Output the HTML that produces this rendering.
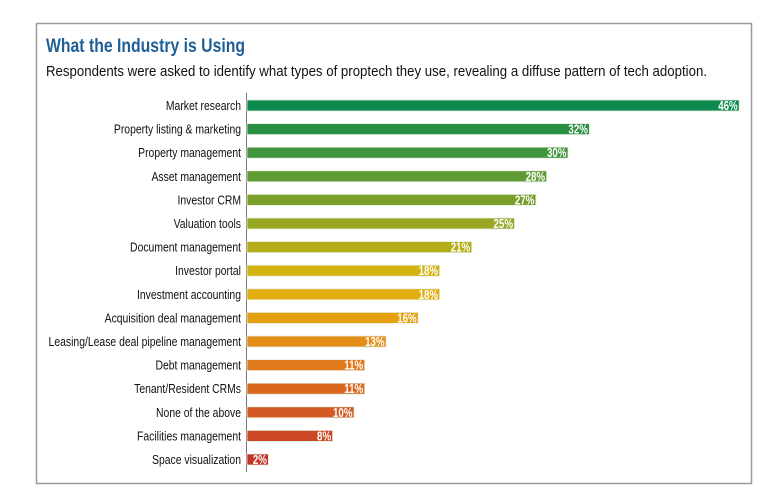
<!DOCTYPE html>
<html><head><meta charset="utf-8"><style>
body{margin:0;background:#fff;width:780px;height:493px;overflow:hidden}
svg{display:block}
text{font-family:"Liberation Sans",sans-serif}
</style></head><body>
<svg id="chart" width="780" height="493">
<rect x="36.5" y="23.5" width="715" height="460" fill="#fff" stroke="#9a9a9a" stroke-width="1.5"/>
<text x="46" y="52" font-size="19" font-weight="bold" fill="#1f5f96" textLength="199" lengthAdjust="spacingAndGlyphs">What the Industry is Using</text>
<text x="46" y="76" font-size="15" fill="#111" textLength="661" lengthAdjust="spacingAndGlyphs">Respondents were asked to identify what types of proptech they use, revealing a diffuse pattern of tech adoption.</text>
<line x1="246.5" y1="93" x2="246.5" y2="472" stroke="#777" stroke-width="1"/>
<g id="bars"></g>
</svg>
<script>
const categories=["Market research","Property listing & marketing","Property management","Asset management","Investor CRM","Valuation tools","Document management","Investor portal","Investment accounting","Acquisition deal management","Leasing/Lease deal pipeline management","Debt management","Tenant/Resident CRMs","None of the above","Facilities management","Space visualization"];
const values=[46,32,30,28,27,25,21,18,18,16,13,11,11,10,8,2];
const valueLabels=["46%","32%","30%","28%","27%","25%","21%","18%","18%","16%","13%","11%","11%","10%","8%","2%"];
const colors=["#0d8a4e","#2a9044","#3f943c","#5e9b32","#7a9f2a","#98a722","#b5ad18","#d4b311","#e1ad0f","#e5a010","#e38e17","#df791b","#d9681e","#d35a22","#cc4825","#c4322a"];
const x0=247, pxPer=10.7, yFirst=105.5, pitch=23.6, bh=11;
const xs=v=>x0+v*pxPer;
const ys=i=>yFirst+i*pitch;
const NS="http://www.w3.org/2000/svg";
const g=document.getElementById('bars');
categories.forEach((c,i)=>{
  const cy=ys(i);
  const t=document.createElementNS(NS,'text');
  
  
  t.setAttribute('x',0);t.setAttribute('y',0);
  t.setAttribute('transform','translate(241,'+(cy+4.5)+') scale(0.8,1)');
  t.setAttribute('text-anchor','end');t.setAttribute('font-size','13');t.setAttribute('fill','#111');
  t.textContent=c;g.appendChild(t);
  const r=document.createElementNS(NS,'rect');
  
  
  r.setAttribute('x',x0);r.setAttribute('y',cy-bh/2);
  r.setAttribute('width',xs(values[i])-x0);r.setAttribute('height',bh);
  r.setAttribute('fill',colors[i]);r.setAttribute('stroke','#e6eee0');r.setAttribute('stroke-width','0.8');
  g.appendChild(r);
  const v=document.createElementNS(NS,'text');
  
  
  v.setAttribute('x',0);v.setAttribute('y',0);
  v.setAttribute('transform','translate('+(xs(values[i])-1.5)+','+(cy+4.5)+') scale(0.78,1)');
  v.setAttribute('text-anchor','end');v.setAttribute('font-size','12.5');v.setAttribute('font-weight','bold');v.setAttribute('fill','#fff');
  v.textContent=valueLabels[i];g.appendChild(v);
});
</script>
</body></html>
